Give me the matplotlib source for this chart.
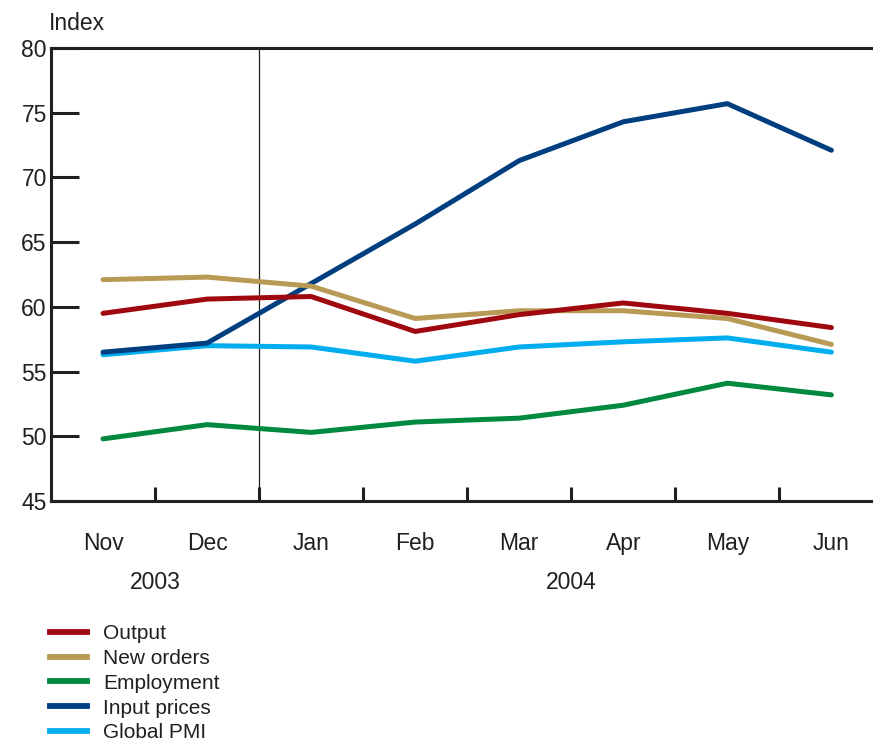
import numpy as np
import matplotlib.pyplot as plt
from matplotlib.lines import Line2D

months = ['Nov', 'Dec', 'Jan', 'Feb', 'Mar', 'Apr', 'May', 'Jun']
years = ['2003', '2004']
year_pos = [0.5, 4.5]

output = [59.5, 60.6, 60.8, 58.1, 59.4, 60.3, 59.5, 58.4]
new_orders = [62.1, 62.3, 61.6, 59.1, 59.7, 59.7, 59.1, 57.1]
employment = [49.8, 50.9, 50.3, 51.1, 51.4, 52.4, 54.1, 53.2]
input_prices = [56.5, 57.2, 61.8, 66.4, 71.3, 74.3, 75.7, 72.1]
global_pmi = [56.3, 57.0, 56.9, 55.8, 56.9, 57.3, 57.6, 56.5]

series = [
    ('Output', output, '#a0080f'),
    ('New orders', new_orders, '#b99a55'),
    ('Employment', employment, '#00893f'),
    ('Input prices', input_prices, '#003f7f'),
    ('Global PMI', global_pmi, '#00adef'),
]

plt.rcParams['font.family'] = ['Liberation Sans', 'DejaVu Sans']
txt = '#231f20'
fs = 16.5

fig = plt.figure(figsize=(8.73, 7.40), dpi=100)
ax = fig.add_axes([51 / 873, 1 - 501 / 740, 1 - 51 / 873, 453 / 740])

x = np.arange(len(months))
# draw in reverse so Output ends up on top
for name, vals, col in series[::-1]:
    ax.plot(x, vals, color=col, lw=3.6, solid_capstyle='round', solid_joinstyle='round', zorder=3)

ax.axvline(1.5, color=txt, lw=0.9, zorder=2)

ax.set_xlim(-0.5, 7.40)
ax.set_ylim(45, 80)
ax.set_yticks(range(45, 81, 5))
ax.tick_params(axis='y', direction='in', length=20, width=2.2, colors=txt,
               labelsize=fs, pad=3)
ax.set_xticks(x)
ax.set_xticklabels(months)
ax.set_xticks(x[:-1] + 0.5, minor=True)
ax.tick_params(axis='x', which='major', length=0, labelsize=fs, colors=txt, pad=22)
ax.tick_params(axis='x', which='minor', direction='in', length=10, width=2.2, color=txt)

for s in ['left', 'bottom', 'top']:
    ax.spines[s].set_linewidth(2.2)
    ax.spines[s].set_color(txt)
ax.spines['right'].set_visible(False)

for yr, p in zip(years, year_pos):
    ax.text(p, -0.18, yr, transform=ax.get_xaxis_transform(), ha='center', va='center',
            fontsize=fs, color=txt)

fig.text(49 / 873, 1 - 23 / 740, 'Index', ha='left', va='center', fontsize=fs, color=txt)

handles = [Line2D([0], [0], color=c, lw=4.2) for _, _, c in series]
fig.legend(handles, [n for n, _, _ in series], loc='upper left',
           bbox_to_anchor=(50 / 873, 1 - 624 / 740), frameon=False, fontsize=15,
           handlelength=1.78, handletextpad=0.77, labelspacing=0.28, borderaxespad=0,
           borderpad=0, labelcolor=txt)

fig.savefig('out.png', dpi=100)
